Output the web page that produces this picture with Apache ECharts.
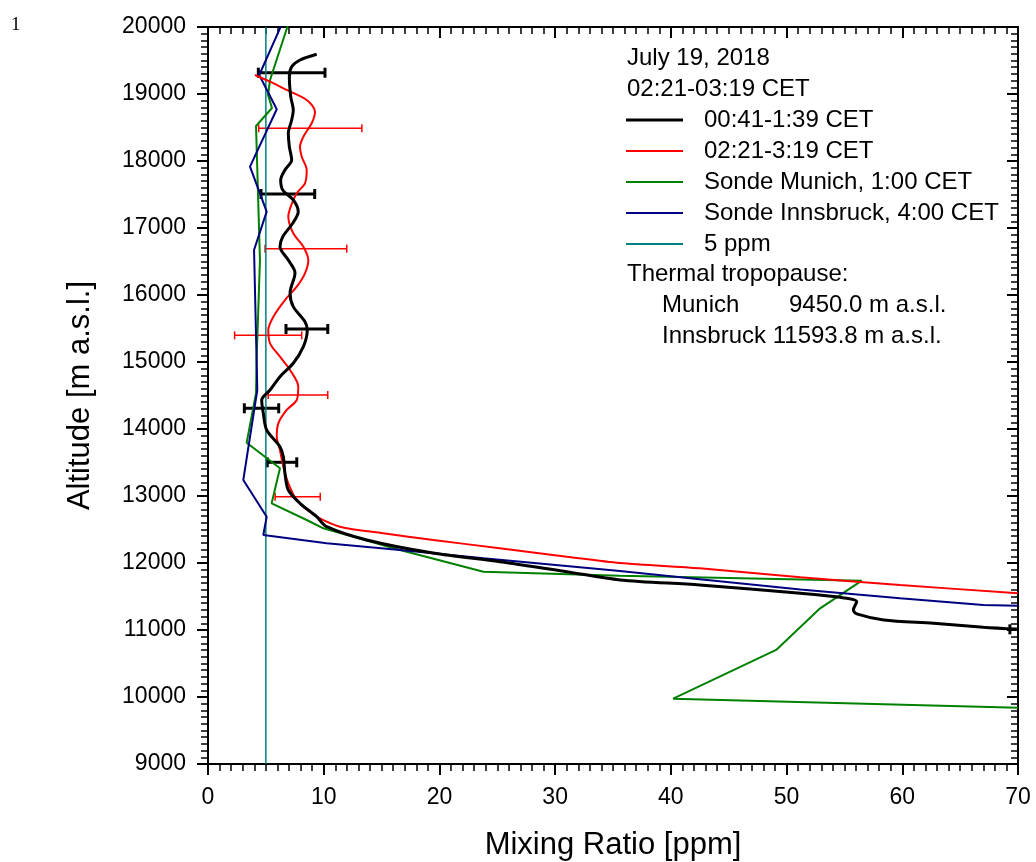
<!DOCTYPE html>
<html>
<head>
<meta charset="utf-8">
<script src="https://cdn.jsdelivr.net/npm/echarts@6/dist/echarts.min.js"></script>
<style>
  html, body { margin: 0; padding: 0; background: #fff; }
  #chart { width: 1036px; height: 862px; }
</style>
</head>
<body>
<div id="chart"></div>
<script>
// mixing ratio [ppm], altitude [m a.s.l.]
const lidarNight = [
  [9.39, 19593], [7.95, 19507], [7.23, 19407], [7.03, 19258], [7.15, 18960], [7.37, 18761],
  [7.23, 18612], [6.94, 18413], [7.03, 18213], [7.23, 18015], [6.65, 17866], [6.28, 17716],
  [6.46, 17567], [7.37, 17418], [7.80, 17243], [7.32, 17070], [6.46, 16870], [6.22, 16721],
  [6.94, 16522], [7.52, 16328], [7.09, 16030], [7.37, 15826], [8.38, 15602], [8.58, 15478],
  [8.24, 15229], [7.37, 14981], [6.22, 14781], [5.36, 14582], [4.64, 14433], [4.78, 14234],
  [5.07, 13985], [6.22, 13736], [6.51, 13587], [6.65, 13339], [6.94, 13090], [7.95, 12891],
  [9.39, 12691], [10.26, 12542], [13.72, 12344], [19.45, 12149], [25.24, 12020], [31.0, 11870],
  [35.6, 11747], [42.5, 11672], [51.2, 11548], [54.6, 11488], [56.06, 11423], [55.77, 11299],
  [56.06, 11240], [58.4, 11150], [62.7, 11100], [67.0, 11040], [70.0, 11010]
];
const lidarLate = [
  [4.06, 19284], [5.36, 19184], [6.80, 19060], [8.53, 18910], [9.25, 18736], [8.96, 18563],
  [8.24, 18363], [7.95, 18214], [8.10, 18064], [8.53, 17866], [8.38, 17667], [7.67, 17518],
  [7.15, 17318], [6.94, 17169], [7.37, 16921], [8.24, 16721], [8.67, 16522], [8.38, 16324],
  [7.67, 16124], [6.65, 15925], [5.65, 15676], [5.21, 15478], [5.36, 15279], [6.22, 15079],
  [7.09, 14881], [7.80, 14632], [7.67, 14433], [6.80, 14284], [6.08, 14085], [5.94, 13885],
  [6.22, 13687], [6.51, 13438], [6.94, 13190], [7.67, 12940], [8.6, 12791], [9.5, 12680],
  [11.4, 12542], [15.15, 12443], [19.47, 12344], [25.2, 12220], [31.0, 12095], [35.6, 12000],
  [42.5, 11921], [51.2, 11787], [59.8, 11672], [70.0, 11548]
];
const sondeMunich = [
  [6.95, 20050], [5.36, 19209], [5.19, 18985], [5.53, 18791], [4.15, 18522], [4.49, 16522],
  [4.20, 15030], [4.15, 14533], [3.34, 13796], [6.22, 13413], [5.50, 12891], [8.53, 12642],
  [9.97, 12518], [16.6, 12194], [23.8, 11870], [35.6, 11810], [56.5, 11736], [52.9, 11324],
  [49.1, 10702], [40.2, 9975], [70.0, 9841]
];
const sondeInnsbruck = [
  [6.40, 20050], [4.43, 19284], [5.94, 18772], [3.63, 17915], [5.07, 17244], [3.98, 16672],
  [4.26, 14582], [3.05, 13239], [5.07, 12691], [4.78, 12418], [10.26, 12294], [16.6, 12194],
  [23.8, 12070], [35.6, 11880], [42.5, 11757], [51.2, 11604], [59.8, 11473], [67.0, 11373],
  [70.0, 11363]
];
const threshold = [[5, 9000], [5, 20000]];
// error bars: altitude, low, high
const nightErr = [
  [19318, 4.35, 10.11], [17507, 4.58, 9.22], [15493, 6.74, 10.35],
  [14309, 3.14, 6.11], [13503, 5.12, 7.67], [11010, 69.3, 71.0]
];
const lateErr = [
  [18488, 4.38, 13.3], [16691, 4.93, 11.99], [15398, 2.3, 8.1],
  [14508, 5.2, 10.35], [12990, 5.8, 9.7]
];
const xTicks = [0, 70, 10];
const yTicks = [9000, 20000, 1000];

const chart = echarts.init(document.getElementById('chart'));
const font = 'Liberation Sans, Arial, sans-serif';

function errBars(color, width, cap) {
  return function (params, api) {
    const y = api.value(0);
    const a = api.coord([api.value(1), y]);
    const b = api.coord([api.value(2), y]);
    const st = { stroke: color, lineWidth: width };
    return {
      type: 'group',
      children: [
        { type: 'line', shape: { x1: a[0], y1: a[1], x2: b[0], y2: b[1] }, style: st },
        { type: 'line', shape: { x1: a[0], y1: a[1] - cap, x2: a[0], y2: a[1] + cap }, style: st },
        { type: 'line', shape: { x1: b[0], y1: b[1] - cap, x2: b[0], y2: b[1] + cap }, style: st }
      ]
    };
  };
}

function xAx(top) {
  return {
    type: 'value', min: xTicks[0], max: xTicks[1], interval: xTicks[2],
    position: top ? 'top' : 'bottom',
    name: top ? '' : 'Mixing Ratio [ppm]',
    nameLocation: 'middle', nameGap: 66,
    nameTextStyle: { fontFamily: font, fontSize: 31, color: '#000' },
    axisLine: { show: true, onZero: false, lineStyle: { color: '#000', width: 2 } },
    axisTick: { show: true, inside: top, length: 11, lineStyle: { color: '#000', width: 2 } },
    minorTick: { show: true, splitNumber: 10, length: 7, lineStyle: { color: '#000', width: 1.5 } },
    axisLabel: { show: !top, margin: 22, fontFamily: font, fontSize: 23, color: '#000' },
    splitLine: { show: false }
  };
}
function yAx(right) {
  return {
    type: 'value', min: yTicks[0], max: yTicks[1], interval: yTicks[2],
    position: right ? 'right' : 'left',
    name: right ? '' : 'Altitude [m a.s.l.]',
    nameLocation: 'middle', nameGap: 112,
    nameTextStyle: { fontFamily: font, fontSize: 31, color: '#000' },
    axisLine: { show: true, onZero: false, lineStyle: { color: '#000', width: 2 } },
    axisTick: { show: true, inside: right, length: 11, lineStyle: { color: '#000', width: 2 } },
    minorTick: { show: true, splitNumber: 10, length: 7, lineStyle: { color: '#000', width: 1.5 } },
    axisLabel: { show: !right, margin: 22, fontFamily: font, fontSize: 23, color: '#000', formatter: v => String(v) },
    splitLine: { show: false }
  };
}

const legendRows = [
  ['00:41-1:39 CET', '#000000', 3],
  ['02:21-3:19 CET', '#ff0000', 2],
  ['Sonde Munich, 1:00 CET', '#008000', 2],
  ['Sonde Innsbruck, 4:00 CET', '#000080', 2],
  ['5 ppm', '#008080', 2]
];
const tf = '24px ' + font;
const graphics = [
  { type: 'text', left: 11, top: 16, style: { text: '1', font: '19px Liberation Serif, serif', fill: '#000' } },
  { type: 'text', x: 627, y: 58, style: { text: 'July 19, 2018', font: tf, fill: '#000', textVerticalAlign: 'middle' } },
  { type: 'text', x: 627, y: 89, style: { text: '02:21-03:19 CET', font: tf, fill: '#000', textVerticalAlign: 'middle' } },
  { type: 'text', x: 627, y: 274, style: { text: 'Thermal tropopause:', font: tf, fill: '#000', textVerticalAlign: 'middle' } },
  { type: 'text', x: 662, y: 305, style: { text: 'Munich', font: tf, fill: '#000', textVerticalAlign: 'middle' } },
  { type: 'text', x: 789, y: 305, style: { text: '9450.0 m a.s.l.', font: tf, fill: '#000', textVerticalAlign: 'middle' } },
  { type: 'text', x: 662, y: 336, style: { text: 'Innsbruck 11593.8 m a.s.l.', font: tf, fill: '#000', textVerticalAlign: 'middle' } }
];
legendRows.forEach((r, i) => {
  const y = 120 + i * 31;
  graphics.push({ type: 'line', shape: { x1: 626, y1: y, x2: 683, y2: y }, style: { stroke: r[1], lineWidth: r[2] } });
  graphics.push({ type: 'text', x: 704, y: y, style: { text: r[0], font: tf, fill: '#000', textVerticalAlign: 'middle' } });
});

chart.setOption({
  animation: false,
  backgroundColor: '#fff',
  grid: { left: 208, top: 27, right: 18, bottom: 98, containLabel: false, outerBoundsMode: 'none' },
  xAxis: [xAx(false), xAx(true)],
  yAxis: [yAx(false), yAx(true)],
  graphic: graphics,
  series: [
    { name: '5 ppm', type: 'line', data: threshold, symbol: 'none', lineStyle: { color: '#008080', width: 1.5 } },
    { name: 'Sonde Munich, 1:00 CET', type: 'line', data: sondeMunich, symbol: 'none', clip: true, lineStyle: { color: '#008000', width: 2 } },
    { name: 'Sonde Innsbruck, 4:00 CET', type: 'line', data: sondeInnsbruck, symbol: 'none', clip: true, lineStyle: { color: '#000080', width: 2 } },
    { name: '02:21-3:19 CET', type: 'line', data: lidarLate, symbol: 'none', smooth: 0.3, clip: true, lineStyle: { color: '#ff0000', width: 2 } },
    { name: '00:41-1:39 CET', type: 'line', data: lidarNight, symbol: 'none', smooth: 0.3, clip: true, lineStyle: { color: '#000000', width: 3 } },
    { type: 'custom', data: lateErr, renderItem: errBars('#ff0000', 1.5, 4), clip: true, encode: { x: [1, 2], y: 0 } },
    { type: 'custom', data: nightErr, renderItem: errBars('#000000', 3, 5), clip: true, encode: { x: [1, 2], y: 0 } }
  ]
});
</script>
</body>
</html>
